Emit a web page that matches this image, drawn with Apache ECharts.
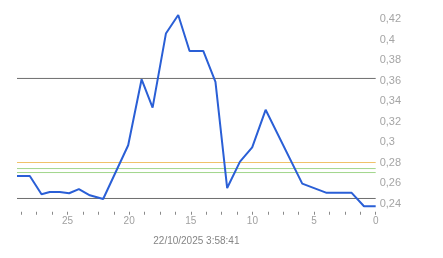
<!DOCTYPE html>
<html>
<head>
<meta charset="utf-8">
<script src="https://cdn.jsdelivr.net/npm/echarts@6/dist/echarts.min.js"></script>
<style>html,body{margin:0;padding:0;background:#fff;}#c{width:443px;height:258px;}</style>
</head>
<body>
<div id="c"></div>
<script>
// Days ago (x) and values (y)
const daysAgo = [29.1, 28.06, 27.11, 26.44, 25.63, 24.87, 24.08, 23.19, 22.11, 20.08, 18.99, 18.1, 17.02, 16.02, 15.1, 13.99, 13.0, 12.05, 11.01, 10.02, 8.93, 5.96, 3.98, 1.95, 0.95, 0];
const values  = [0.2668, 0.2668, 0.249, 0.2512, 0.2512, 0.25, 0.2541, 0.248, 0.2444, 0.2968, 0.3612, 0.3336, 0.4058, 0.4239, 0.3888, 0.3888, 0.3587, 0.2551, 0.2809, 0.2948, 0.3314, 0.2594, 0.2504, 0.2504, 0.2373, 0.2373];
const darkLines = [0.362, 0.2449];
const yellowLines = [0.28];
const greenLines = [0.2741, 0.2702];
const xMin = 0, xMax = 29.1;
const xTickValues = [0, 1.25, 2.5, 3.75, 5, 6.25, 7.5, 8.75, 10, 11.25, 12.5, 13.75, 15, 16.25, 17.5, 18.75, 20, 21.25, 22.5, 23.75, 25, 26.25, 27.5, 28.75];
const xTickLabels = [0, 5, 10, 15, 20, 25];
const yTickLabels = [0.24, 0.26, 0.28, 0.3, 0.32, 0.34, 0.36, 0.38, 0.4, 0.42];
const dateLabel = '22/10/2025 3:58:41';

const chart = echarts.init(document.getElementById('c'), null, {renderer: 'canvas'});
const refSeries = (vals, color) => vals.map(v => ({
  type: 'line', data: [[xMin, v], [xMax, v]], symbol: 'none', silent: true,
  lineStyle: {color: color, width: 1}, z: 2
}));
chart.setOption({
  animation: false,
  backgroundColor: '#fff',
  grid: {left: 17, right: 67.3, top: 8.75, bottom: 44.25},
  xAxis: {
    type: 'value', inverse: true, min: xMin, max: xMax, offset: -2,
    name: dateLabel, nameLocation: 'middle', nameGap: 24,
    nameTextStyle: {color: '#858585', fontSize: 10, fontFamily: 'Liberation Sans, Arial, sans-serif'},
    axisLine: {show: false},
    axisTick: {show: true, length: 3, customValues: xTickValues, lineStyle: {color: '#8a8a8a', width: 1}},
    axisLabel: {customValues: xTickLabels, margin: 4.5, color: '#a0a0a0', fontSize: 10, fontFamily: 'Liberation Sans, Arial, sans-serif'},
    splitLine: {show: false}
  },
  yAxis: {
    type: 'value', position: 'right', min: 0.23, max: 0.43,
    axisLine: {show: false}, axisTick: {show: false}, splitLine: {show: false},
    axisLabel: {customValues: yTickLabels, margin: 4, color: '#a5a5a5', fontSize: 11,
      fontFamily: 'Liberation Sans, Arial, sans-serif',
      formatter: v => String(Math.round(v * 100) / 100).replace('.', ',')}
  },
  series: [].concat(
    refSeries(darkLines, '#6e6e6e'),
    refSeries(yellowLines, '#f0c26a'),
    refSeries(greenLines, '#a2d68c'),
    [{
      type: 'line',
      data: daysAgo.map((d, i) => [d, values[i]]),
      symbol: 'none',
      lineStyle: {color: '#2a5fd6', width: 2},
      z: 3
    }]
  )
});
</script>
</body>
</html>
